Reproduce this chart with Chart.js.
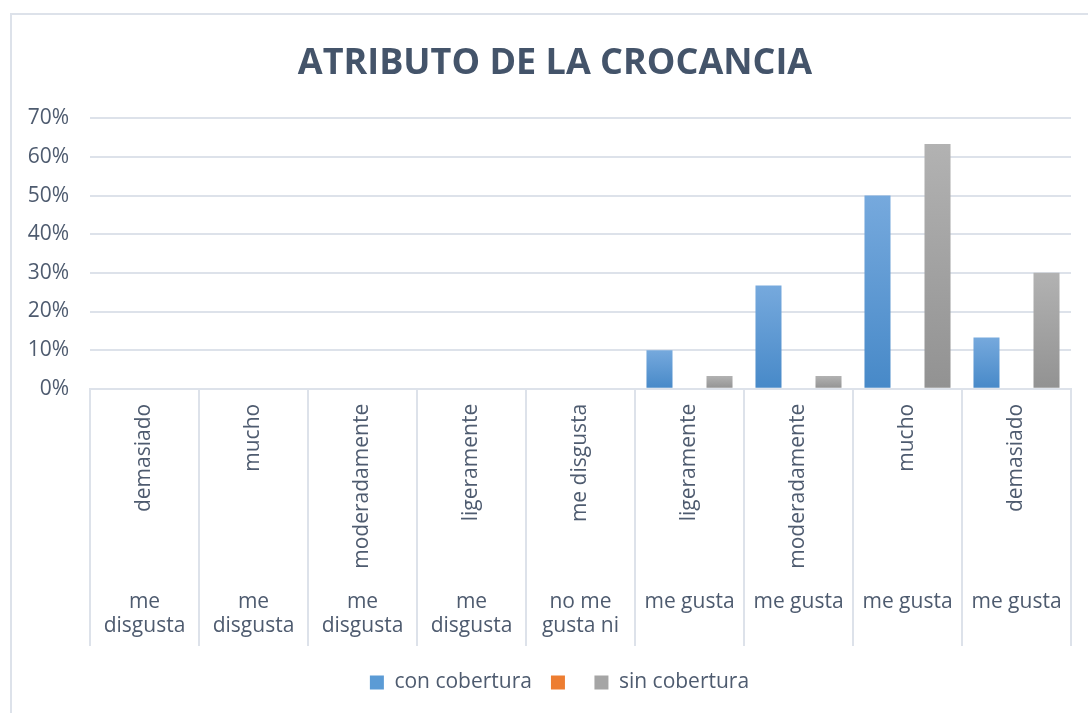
<!DOCTYPE html>
<html>
<head>
<meta charset="utf-8">
<script src="https://cdn.jsdelivr.net/npm/chart.js@4.4.1/dist/chart.umd.min.js"></script>
<style>
  html, body { margin:0; padding:0; background:#fff; }
  #wrap { position:relative; width:1088px; height:713px; overflow:hidden; }
  #frame { position:absolute; left:10px; top:13px; width:1200px; height:800px; border:2px solid #dde2ea; box-sizing:border-box; }
  canvas { position:absolute; left:0; top:0; }
</style>
</head>
<body>
<div id="wrap">
  <div id="frame"></div>
  <canvas id="chart" width="1088" height="713"></canvas>
</div>
<script>
// categories: inner level (rotated) and outer level
const innerLabels = ['demasiado','mucho','moderadamente','ligeramente','me disgusta','ligeramente','moderadamente','mucho','demasiado']
const outerLabels = [['me','disgusta'],['me','disgusta'],['me','disgusta'],['me','disgusta'],['no me','gusta ni'],'me gusta','me gusta','me gusta','me gusta']

// series (fractions)
const conCobertura = [0, 0, 0, 0, 0, 0.10, 0.267, 0.50, 0.133]
const serie2       = [0, 0, 0, 0, 0, 0, 0, 0, 0]
const sinCobertura = [0, 0, 0, 0, 0, 0.033, 0.033, 0.633, 0.30]

const FONT = "'Open Sans', 'Noto Sans', sans-serif"
const TXT = '#4e5b6f'
const GRID = '#dde2ea'

function grad(top, bottom) {
  return c => {
    const y = c.chart.scales.y
    if (!y || !c.parsed) return bottom
    const y0 = y.getPixelForValue(c.parsed.y), y1 = y.getPixelForValue(0)
    if (!isFinite(y0) || Math.abs(y1 - y0) < 1) return bottom
    const g = c.chart.ctx.createLinearGradient(0, y0, 0, y1)
    g.addColorStop(0, top)
    g.addColorStop(1, bottom)
    return g
  }
}

// vertical separators of the two-level category table
const separators = {
  id: 'separators',
  afterLayout(chart) {
    // title and legend are centred on the plot area rather than the whole canvas
    if (chart.titleBlock) chart.titleBlock.left = 39
    if (chart.legend) chart.legend.left = 48
  },
  afterDraw(chart) {
    const x = chart.scales.x, x2 = chart.scales.x2
    const ctx = chart.ctx
    ctx.save()
    ctx.strokeStyle = GRID
    ctx.lineWidth = 2
    for (let i = 0; i <= innerLabels.length; i++) {
      const px = Math.round(x.getPixelForValue(i - 0.5))
      ctx.beginPath()
      ctx.moveTo(px, chart.chartArea.bottom)
      ctx.lineTo(px, x2.bottom - 7)
      ctx.stroke()
    }
    ctx.restore()
  }
}

const legendColors = ['#5b9bd5', '#ed7d31', '#a5a5a5']

new Chart(document.getElementById('chart'), {
  type: 'bar',
  data: {
    labels: innerLabels,
    datasets: [
      { label:'con cobertura', data:conCobertura, backgroundColor:grad('#76a9dd', '#4789c8'), categoryPercentage:0.826, barPercentage:0.867 },
      { label:'', data:serie2, backgroundColor:'#ed7d31', categoryPercentage:0.826, barPercentage:0.867 },
      { label:'sin cobertura', data:sinCobertura, backgroundColor:grad('#b2b2b2', '#929292'), categoryPercentage:0.826, barPercentage:0.867 },
    ],
  },
  options: {
    responsive:false, animation:false,
    layout:{ padding:{ left:12, right:17, top:14, bottom:10 } },
    plugins:{
      title:{ display:true, text:'ATRIBUTO DE LA CROCANCIA', color:'#44546a',
              font:{ family:FONT, size:36, weight:'bold' }, padding:{ top:28, bottom:33 } },
      legend:{ position:'bottom',
        labels:{ font:{ family:FONT, size:21 }, color:TXT, boxWidth:14, boxHeight:14, padding:19,
          generateLabels: chart => chart.data.datasets.map((d, i) => ({
            text:d.label, fillStyle:legendColors[i], strokeStyle:legendColors[i], lineWidth:0,
            hidden:false, datasetIndex:i, fontColor:TXT,
          })) } },
      tooltip:{ enabled:false },
    },
    scales:{
      x:{ grid:{ display:false }, border:{ display:true, color:GRID, width:2 },
          ticks:{ font:{ family:FONT, size:21 }, color:TXT, minRotation:90, maxRotation:90, autoSkip:false, padding:7 } },
      x2:{ type:'category', labels:outerLabels, position:'bottom', offset:true,
           grid:{ display:false }, border:{ display:false },
           afterFit: s => { s.height += 9 },
           ticks:{ font:{ family:FONT, size:21, lineHeight:1.15 }, color:TXT, maxRotation:0, autoSkip:false, padding:6 } },
      y:{ min:0, max:0.7, border:{ display:false },
          grid:{ color:GRID, lineWidth:2, drawTicks:false },
          afterFit: s => { s.width = 78 },
          ticks:{ stepSize:0.1, padding:21, font:{ family:FONT, size:21 }, color:TXT,
                  callback: v => Math.round(v * 100) + '%' } },
    },
  },
  plugins:[separators],
})
</script>
</body>
</html>
